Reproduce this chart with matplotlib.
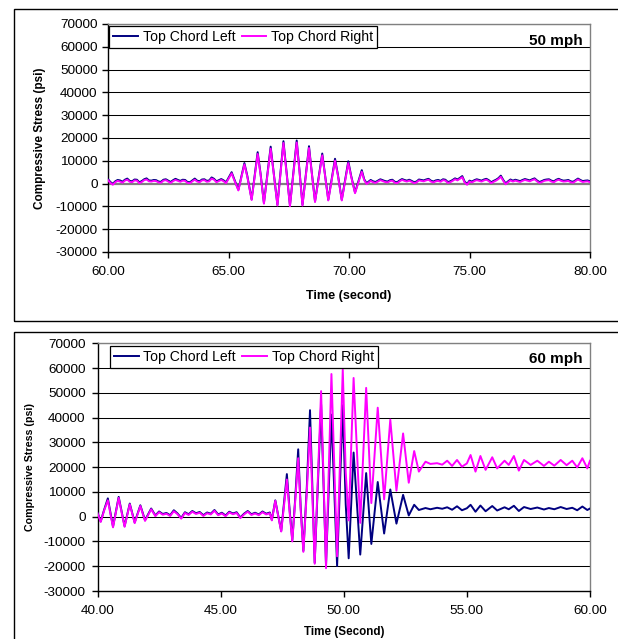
import numpy as np
import matplotlib
matplotlib.use("Agg")
import matplotlib.pyplot as plt
from matplotlib.patches import Rectangle

plt.rcParams["font.family"] = ["Liberation Sans", "DejaVu Sans"]
plt.rcParams["axes.unicode_minus"] = False

LEFT_COLOR = "#000080"
RIGHT_COLOR = "#FF00FF"
series_names = ["Top Chord Left", "Top Chord Right"]

# ---------------- 50 mph run (time in s, stress in psi) ----------------
t50_pre_start, t50_pre_step = 60.0, 0.1
v50_pre_right = [1500, 300, -500, 600, 1200, 900, 400, 1300, 1700, 800,
                 600, 1400, 1300, 200, 700, 1500, 1800, 1000, 900, 1200,
                 1100, 500, 400, 1300, 1500, 900, 300, 1100, 1600, 1200,
                 800, 1300, 1200, 300, 200, 1000, 1700, 900, 600, 1400,
                 1500, 800, 1000, 2200, 1700, 600, 1100, 1600, 1000, 200]
v50_pre_left = [1900, 700, -100, 1000, 1600, 1400, 800, 1700, 2200, 1200,
                1000, 1800, 1700, 600, 1100, 1900, 2300, 1400, 1300, 1600,
                1500, 900, 800, 1700, 1900, 1300, 700, 1500, 2100, 1600,
                1200, 1700, 1600, 700, 600, 1400, 2200, 1300, 1000, 1800,
                1900, 1200, 1400, 2700, 2100, 1000, 1500, 2000, 1400, 600]

t50_pass = [65.13, 65.24, 65.41, 65.66, 65.78, 65.96, 66.21, 66.33, 66.47, 66.75, 66.87,
            67.03, 67.28, 67.40, 67.55, 67.83, 67.94, 68.07, 68.34, 68.45, 68.59, 68.89,
            69.00, 69.14, 69.42, 69.54, 69.70, 69.97, 70.09, 70.25, 70.53, 70.63, 70.73]
v50_pass_right = [4500, 1500, -3000, 8400, 3000, -7200, 13000, 4000, -8800, 15300, 5000,
                  -9600, 17800, 5500, -9900, 18000, 6000, -9600, 15600, 5000, -8100, 12400,
                  4000, -7400, 10100, 3500, -7400, 9000, 3000, -4200, 5200, 1500, -200]
v50_pass_left = [5000, 1900, -2700, 9000, 3400, -6900, 13800, 4400, -8500, 16200, 5400,
                 -9300, 18600, 5900, -9600, 18900, 6400, -9300, 16400, 5400, -7800, 13200,
                 4400, -7100, 10900, 3900, -7100, 9800, 3400, -3900, 5900, 1900, 200]

t50_post_start, t50_post_step = 70.9, 0.1
v50_post_right = [1200, 600, 300, 900, 1500, 1100, 700, 500, 1100, 1300,
                  400, 200, 1000, 1600, 1200, 900, 1300, 800, 200, 500,
                  1400, 1200, 1000, 1400, 1700, 900, 500, 1000, 1200, 800,
                  1500, 1300, 300, 600, 1200, 1900, 1400, 2100, 2800, 400,
                  -500, 900, 500, 1100, 1500, 1200, 900, 1400, 1700, 1100,
                  200, 800, 1300, 2000, 3000, 1200, -300, 600, 1400, 900,
                  1300, 1000, 700, 1200, 1600, 1300, 1000, 1500, 1900, 1000,
                  300, 700, 1200, 1400, 1500, 900, 600, 1300, 1700, 1200,
                  900, 1000, 1200, 600, 400, 1100, 1800, 1200, 700, 900,
                  1000, 600]
v50_post_left = [1600, 1000, 700, 1300, 1900, 1500, 1100, 900, 1500, 1700,
                 800, 600, 1400, 2000, 1600, 1300, 1700, 1200, 600, 900,
                 1800, 1600, 1400, 1800, 2100, 1300, 900, 1400, 1600, 1200,
                 1900, 1700, 700, 1000, 1600, 2300, 1800, 2500, 3300, 800,
                 -100, 1300, 900, 1500, 1900, 1600, 1300, 1800, 2100, 1500,
                 600, 1200, 1700, 2400, 3500, 1600, 100, 1000, 1800, 1300,
                 1700, 1400, 1100, 1600, 2000, 1700, 1400, 1900, 2300, 1400,
                 700, 1100, 1600, 1800, 1900, 1300, 1000, 1700, 2100, 1600,
                 1300, 1400, 1600, 1000, 800, 1500, 2200, 1600, 1100, 1300,
                 1400, 1000]

# ---------------- 60 mph run ----------------
t60_start = [40.00, 40.13, 40.27, 40.42, 40.63, 40.86, 41.10, 41.31, 41.51, 41.74, 41.93, 42.18]
v60_start_right = [1400, -2100, 2500, 6600, -4300, 7600, -4100, 5000, -2600, 4300, -1700, 3000]
v60_start_left = [1600, -1900, 2800, 7400, -4000, 8000, -3800, 5300, -2300, 4600, -1400, 3300]

t60_quiet_start, t60_quiet_step = 42.35, 0.15
v60_quiet_right = [200, 1800, 800, 1200, 300, 2200, 1000, -800, 1500, 700, 2000, 1100, 1600,
                   300, 1400, 900, 2400, 600, 1300, 200, 1700, 1000, 1500, -600, 900, 2000,
                   700, 1300, 600, 1800, 900, 1400]
v60_quiet_left = [500, 2100, 1100, 1500, 600, 2600, 1300, -500, 1800, 1000, 2300, 1400, 1900,
                  600, 1700, 1200, 2700, 900, 1600, 500, 2000, 1300, 1800, -300, 1200, 2300,
                  1000, 1600, 900, 2100, 1200, 1700]

t60_pass = [47.08, 47.22, 47.46, 47.69, 47.80, 47.91, 48.02, 48.15, 48.25, 48.36, 48.50,
            48.63, 48.82, 49.08, 49.28, 49.50, 49.73, 49.96,
            50.08, 50.20, 50.40, 50.67, 50.91, 51.12, 51.38, 51.64, 51.89, 52.14, 52.41,
            52.64, 52.86, 53.05]
v60_pass_right = [-1500, 6400, -6000, 15000, 2000, -10000, 5000, 23600, 3000, -14200, 10000,
                  36000, -19000, 50700, -20800, 57600, -16000, 59400,
                  18000, -1500, 56000, -2500, 52000, 5500, 44000, 7000, 39200, 10500, 33600,
                  13700, 26500, 18200]
v60_pass_left = [-1300, 6600, -5800, 17200, 3000, -9500, 6000, 27200, 4000, -13800, 12000,
                 43000, -18600, 45300, -19500, 41200, -19900, 45000,
                 5000, -16800, 25900, -15300, 17600, -11000, 14000, -6800, 11000, -2800, 8800,
                 500, 4800, 2700]

t60_end = [53.32, 53.52, 53.79, 54.0, 54.2, 54.4, 54.6, 54.8, 55.0, 55.15, 55.35, 55.55,
           55.76, 56.03, 56.23, 56.53, 56.7, 56.91, 57.11, 57.32, 57.59, 57.86, 58.13,
           58.33, 58.55, 58.81, 59.05, 59.28, 59.48, 59.69, 59.89, 60.0]
v60_end_right = [22200, 21300, 21600, 21000, 22600, 20500, 22900, 20200, 21500, 24900,
                 18200, 24500, 18900, 24000, 19500, 22600, 20900, 24500, 18600, 22900,
                 20900, 22600, 20500, 22200, 20600, 22900, 20800, 22600, 19900, 23600,
                 19500, 22600]
v60_end_left = [3500, 3000, 3600, 3200, 3800, 2800, 4200, 2600, 3400, 4800, 2000, 4500,
                2200, 4300, 2500, 3800, 3000, 4400, 2300, 3900, 3100, 3700, 2900, 3500,
                3000, 3900, 3100, 3600, 2600, 4100, 2700, 3300]


def sampled(start, step, values):
    return start + step * np.arange(len(values))


def join(parts):
    return np.concatenate([np.asarray(p, dtype=float) for p in parts])


t50 = join([sampled(t50_pre_start, t50_pre_step, v50_pre_right), t50_pass,
            sampled(t50_post_start, t50_post_step, v50_post_right)])
r50 = join([v50_pre_right, v50_pass_right, v50_post_right])
l50 = join([v50_pre_left, v50_pass_left, v50_post_left])

t60 = join([t60_start, sampled(t60_quiet_start, t60_quiet_step, v60_quiet_right),
            t60_pass, t60_end])
r60 = join([v60_start_right, v60_quiet_right, v60_pass_right, v60_end_right])
l60 = join([v60_start_left, v60_quiet_left, v60_pass_left, v60_end_left])

W, H = 618, 639
fig = plt.figure(figsize=(W / 100, H / 100), dpi=100)

# panel frames
fig.patches.append(Rectangle((14 / W, 1 - 321 / H), 1.2, 312 / H, fill=False,
                             ec="black", lw=1.0, transform=fig.transFigure))
fig.patches.append(Rectangle((14 / W, -0.2), 1.2, 0.2 + 1 - 332 / H, fill=False,
                             ec="black", lw=1.0, transform=fig.transFigure))


def make_axes(px_left, px_top, px_bottom):
    px_right = 590
    return fig.add_axes([px_left / W, 1 - px_bottom / H,
                         (px_right - px_left) / W, (px_bottom - px_top) / H])


def style(ax, xlim, xticks, xlabel, label_text, ylab, xlab, legend_xy, zero_gray, tick_pad):
    ax.set_xlim(*xlim)
    ax.set_ylim(-30000, 70000)
    yticks = np.arange(-30000, 70001, 10000)
    ax.set_yticks(yticks)
    ax.set_xticks(xticks)
    ax.set_xticklabels([f"{x:.2f}" for x in xticks])
    ax.set_yticklabels([f"{int(y)}" for y in yticks])
    for y in yticks[1:]:
        if y == 0 and zero_gray:
            ax.axhline(y, color="#808080", lw=1.6, zorder=1)
        else:
            ax.axhline(y, color="black", lw=0.75, zorder=1)
    for side in ("left", "bottom"):
        ax.spines[side].set_color("black")
        ax.spines[side].set_linewidth(1.0)
    for side in ("top", "right"):
        ax.spines[side].set_color("#808080")
        ax.spines[side].set_linewidth(1.0)
    ax.tick_params(axis="both", direction="out", length=4, width=1.0,
                   labelsize=9.7, colors="black")
    ax.tick_params(axis="y", pad=tick_pad[1])
    ax.tick_params(axis="x", pad=tick_pad[0])
    ax.set_ylabel("Compressive Stress (psi)", fontsize=ylab[1], fontweight="bold")
    ax.yaxis.set_label_coords(ylab[0], 0.5)
    ax.set_xlabel(xlabel, fontsize=xlab[1], fontweight="bold")
    ax.xaxis.set_label_coords(0.5, xlab[0])
    ax.text(0.985, legend_xy[2], label_text, transform=ax.transAxes, ha="right",
            va="center", fontsize=11, fontweight="bold", zorder=6)
    leg = ax.legend(loc="upper left", bbox_to_anchor=(legend_xy[0], legend_xy[1]),
                    ncol=2, fontsize=10.1, frameon=True, fancybox=False,
                    borderaxespad=0, borderpad=0.3, handlelength=1.75,
                    handletextpad=0.35, columnspacing=0.45)
    leg.get_frame().set_edgecolor("black")
    leg.get_frame().set_linewidth(0.9)
    leg.get_frame().set_alpha(1)
    leg.set_zorder(7)


ax1 = make_axes(108, 24, 252)
ax1.plot(t50, l50, color=LEFT_COLOR, lw=1.4, label=series_names[0], zorder=3)
ax1.plot(t50, r50, color=RIGHT_COLOR, lw=1.4, label=series_names[1], zorder=4)
style(ax1, (60, 80), [60, 65, 70, 75, 80], "Time (second)", "50 mph",
      ylab=(-0.129, 8.5), xlab=(-0.167, 9.1), legend_xy=(0.002, 0.991, 0.925),
      zero_gray=True, tick_pad=(6, 3.5))

ax2 = make_axes(97.5, 343.3, 591)
ax2.plot(t60, l60, color=LEFT_COLOR, lw=1.4, label=series_names[0], zorder=3)
ax2.plot(t60, r60, color=RIGHT_COLOR, lw=1.4, label=series_names[1], zorder=4)
style(ax2, (40, 60), [40, 45, 50, 55, 60], "Time (Second)", "60 mph",
      ylab=(-0.126, 7.7), xlab=(-0.141, 8.4), legend_xy=(0.025, 0.989, 0.937),
      zero_gray=False, tick_pad=(6, 4.5))

fig.savefig("out.png", dpi=100)
